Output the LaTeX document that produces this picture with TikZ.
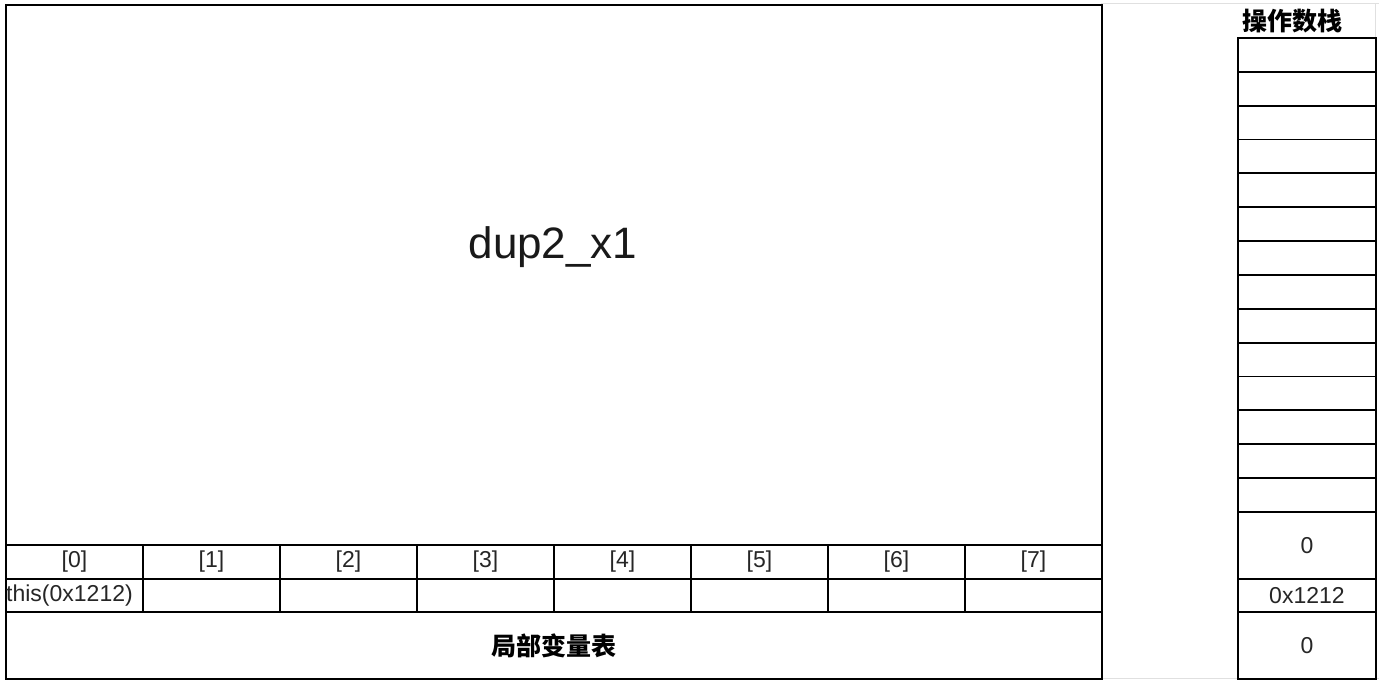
\documentclass[tikz,border=0pt]{standalone}
\usepackage{fontspec}
\setmainfont{Liberation Sans}
\newfontfamily\cjk{Noto Sans CJK SC}
\begin{document}
\begin{tikzpicture}[x=1pt,y=-1pt,
  cell/.style={draw=black, line width=1.9pt, rectangle, inner sep=0pt, anchor=north west},
  txt/.style={font=\fontsize{23}{23}\selectfont, text=black!85},
  cjktxt/.style={font=\cjk\bfseries\fontsize{25}{25}\selectfont, text=black},
  faint/.style={draw=black!12, line width=1pt}]
\useasboundingbox (0,0) rectangle (1379,684);
\fill[white] (0,0) rectangle (1379,684);
% faint spreadsheet gridlines
\coordinate (g1) at (1101,4);
\coordinate (g2) at (1379,4);
\coordinate (g3) at (1101,678);
\coordinate (g4) at (1379,678);
\coordinate (g5) at (1375,4);
\coordinate (g6) at (1375,37);
\draw[faint] (g1) -- (g2);
\draw[faint] (g3) -- (g4);
\draw[faint] (g5) -- (g6);
% local variable frame
\node[cell, minimum width=1096pt, minimum height=540pt] (frame) at (5,4) {};
\node[font=\fontsize{44}{44}\selectfont, text=black!90] (title) at (553,247) {dup2\_x1};
\foreach \i in {0,...,7} {
  \node[cell, txt, minimum width=137pt, minimum height=34pt] (idx\i) at ({5+137*\i},544) {[\i]};
  \node[cell, minimum width=137pt, minimum height=33pt] (val\i) at ({5+137*\i},578) {};
}
\node[txt, anchor=west, inner sep=0pt] (this) at (6,596) {this(0x1212)};
\node[cell, cjktxt, minimum width=1096pt, minimum height=67pt] (lvt) at (5,611) {局部变量表};
% operand stack
\node[cjktxt, anchor=west, inner sep=0pt] (stk) at (1242,21) {操作数栈};
\foreach \j in {0,...,13} {
  \node[cell, minimum width=138pt, minimum height=33.86pt] (s\j) at (1237,{37+33.86*\j}) {};
}
\node[cell, txt, minimum width=138pt, minimum height=67pt] (sa) at (1237,511) {0};
\node[cell, txt, minimum width=138pt, minimum height=33pt] (sb) at (1237,578) {0x1212};
\node[cell, txt, minimum width=138pt, minimum height=67pt] (sc) at (1237,611) {0};
\end{tikzpicture}
\end{document}
